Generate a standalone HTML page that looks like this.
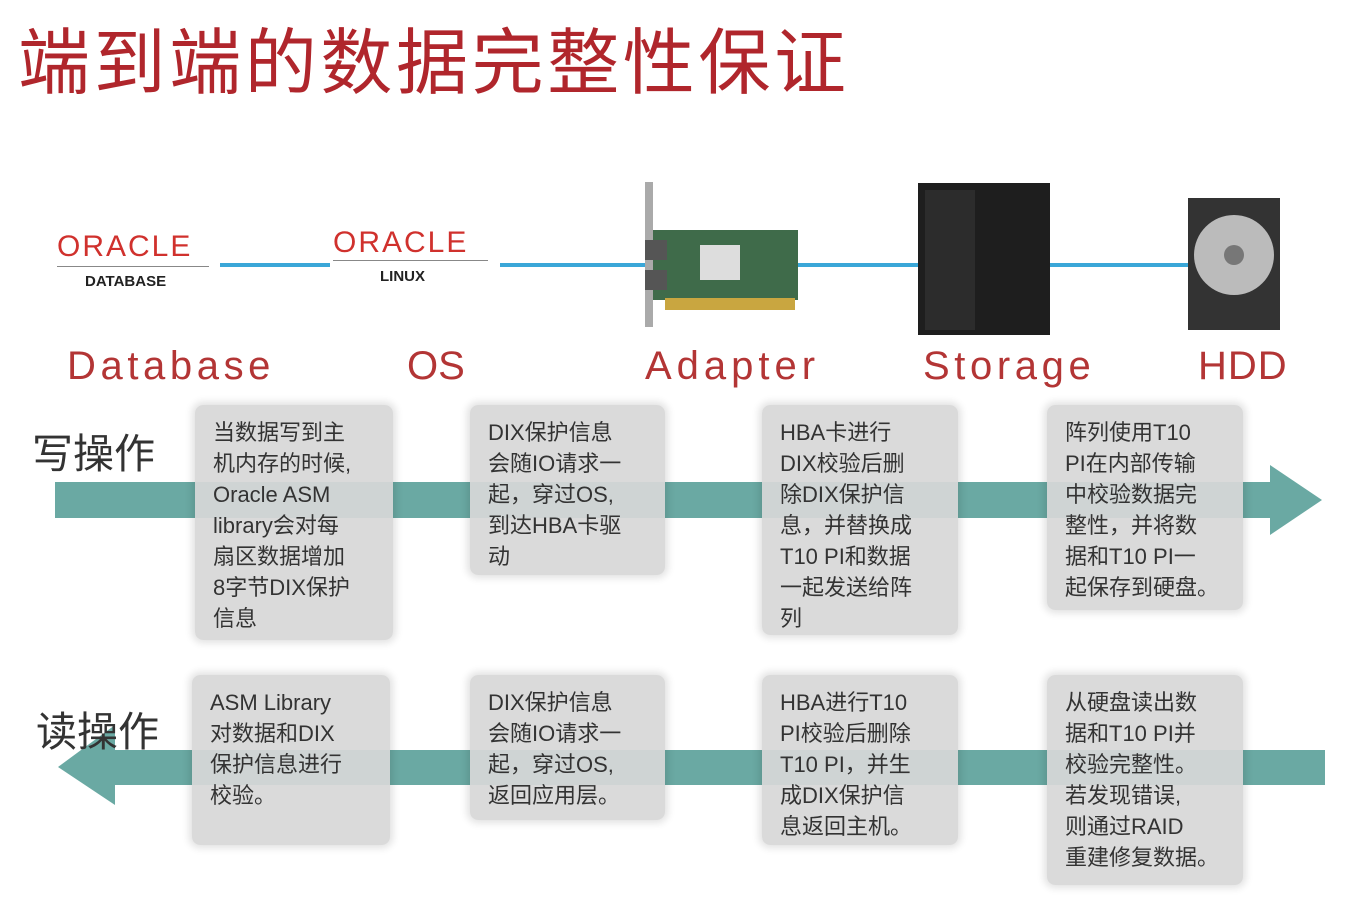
<!DOCTYPE html>
<html><head><meta charset="utf-8"><style>
body{margin:0;width:1349px;height:922px;background:#fff;position:relative;overflow:hidden;font-family:"Liberation Sans","Noto Sans CJK SC",sans-serif}
.a{position:absolute}
.t{color:#b0262c;font-size:72px;left:18px;top:4px;letter-spacing:3.6px;white-space:nowrap}
.lbl{color:#b33535;font-size:40px;top:344px;letter-spacing:4.6px}
.side{font-size:41px;color:#333}
.bx{position:absolute;background:rgba(215,215,215,0.93);border-radius:8px;box-shadow:0 0 8px 3px rgba(0,0,0,0.12);color:#333;font-size:22px;line-height:31px;padding:12px 8px 8px 18px;box-sizing:border-box;white-space:nowrap}
.bl{position:absolute;height:4px;background:#3aa7d8;top:263px}
</style></head><body>
<div class="a t">端到端的数据完整性保证</div>

<div class="bl" style="left:220px;width:110px"></div>
<div class="bl" style="left:500px;width:145px"></div>
<div class="bl" style="left:795px;width:123px"></div>
<div class="bl" style="left:1050px;width:138px"></div>

<div class="a" style="left:57px;top:230px;color:#d0312d;font-size:30px;letter-spacing:2px">ORACLE</div>
<div class="a" style="left:57px;top:266px;width:152px;height:1px;background:#888"></div>
<div class="a" style="left:85px;top:273px;font-size:15px;font-weight:bold;color:#222">DATABASE</div>
<div class="a" style="left:333px;top:226px;color:#d0312d;font-size:30px;letter-spacing:2px">ORACLE</div>
<div class="a" style="left:333px;top:260px;width:155px;height:1px;background:#888"></div>
<div class="a" style="left:380px;top:268px;font-size:15px;font-weight:bold;color:#222">LINUX</div>

<svg class="a" style="left:0;top:0" width="1349" height="922">
<rect x="645" y="182" width="8" height="145" fill="#aaa"/>
<rect x="653" y="230" width="145" height="70" fill="#3f6b4a"/>
<rect x="645" y="240" width="22" height="20" fill="#555"/><rect x="645" y="270" width="22" height="20" fill="#555"/>
<rect x="700" y="245" width="40" height="35" fill="#ddd"/>
<rect x="665" y="298" width="130" height="12" fill="#c9a640"/>
<rect x="918" y="183" width="132" height="152" fill="#1e1e1e"/>
<rect x="925" y="190" width="50" height="140" fill="#2c2c2c"/>
<rect x="1188" y="198" width="92" height="132" fill="#333"/>
<circle cx="1234" cy="255" r="40" fill="#bbb"/><circle cx="1234" cy="255" r="10" fill="#777"/>
<polygon points="55,482 1270,482 1270,465 1322,500 1270,535 1270,518 55,518" fill="#6aa9a3"/>
<polygon points="1325,750 115,750 115,725 58,767 115,805 115,785 1325,785" fill="#6aa9a3"/>
</svg>

<div class="a lbl" style="left:67px">Database</div>
<div class="a lbl" style="left:407px;letter-spacing:0">OS</div>
<div class="a lbl" style="left:645px;letter-spacing:5px">Adapter</div>
<div class="a lbl" style="left:923px">Storage</div>
<div class="a lbl" style="left:1198px;letter-spacing:1px">HDD</div>

<div class="a side" style="left:32px;top:420px">写操作</div>
<div class="a side" style="left:36px;top:698px">读操作</div>

<div class="bx" style="left:195px;top:405px;width:198px;height:235px">当数据写到主<br>机内存的时候,<br>Oracle ASM<br>library会对每<br>扇区数据增加<br>8字节DIX保护<br>信息</div>
<div class="bx" style="left:470px;top:405px;width:195px;height:170px">DIX保护信息<br>会随IO请求一<br>起，穿过OS,<br>到达HBA卡驱<br>动</div>
<div class="bx" style="left:762px;top:405px;width:196px;height:230px">HBA卡进行<br>DIX校验后删<br>除DIX保护信<br>息，并替换成<br>T10 PI和数据<br>一起发送给阵<br>列</div>
<div class="bx" style="left:1047px;top:405px;width:196px;height:205px">阵列使用T10<br>PI在内部传输<br>中校验数据完<br>整性，并将数<br>据和T10 PI一<br>起保存到硬盘。</div>

<div class="bx" style="left:192px;top:675px;width:198px;height:170px">ASM Library<br>对数据和DIX<br>保护信息进行<br>校验。</div>
<div class="bx" style="left:470px;top:675px;width:195px;height:145px">DIX保护信息<br>会随IO请求一<br>起，穿过OS,<br>返回应用层。</div>
<div class="bx" style="left:762px;top:675px;width:196px;height:170px">HBA进行T10<br>PI校验后删除<br>T10 PI，并生<br>成DIX保护信<br>息返回主机。</div>
<div class="bx" style="left:1047px;top:675px;width:196px;height:210px">从硬盘读出数<br>据和T10 PI并<br>校验完整性。<br>若发现错误,<br>则通过RAID<br>重建修复数据。</div>
</body></html>
